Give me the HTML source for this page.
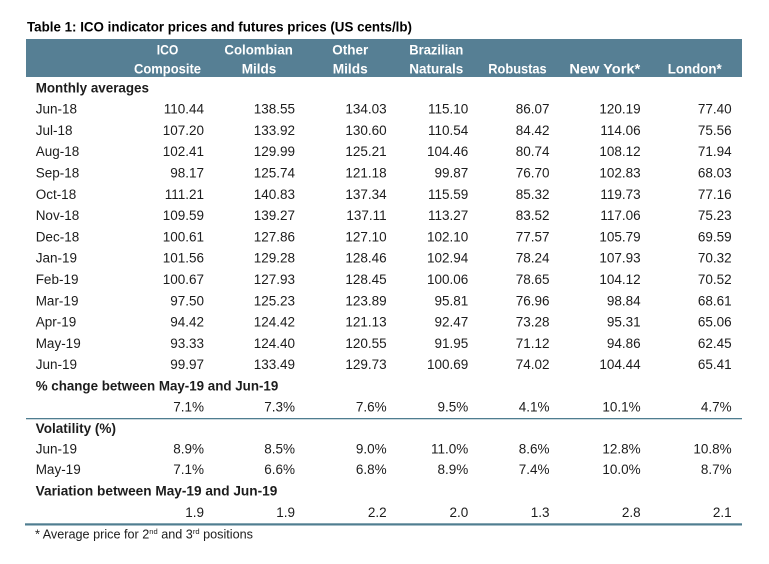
<!DOCTYPE html>
<html><head><meta charset="utf-8"><style>
html,body{margin:0;padding:0;background:#fff;}
svg{display:block;}
text{font-family:"Liberation Sans",Arial,sans-serif;fill:#1c1c1c;}
.b{font-weight:bold;}
.h{font-weight:bold;fill:#fff;font-size:14px;}
.n{font-size:13.5px;text-anchor:end;}
.l{font-size:13.5px;}
</style></head><body>
<svg width="769" height="564" viewBox="0 0 769 564" xmlns="http://www.w3.org/2000/svg">
<rect x="0" y="0" width="769" height="564" fill="#fff"/>
<text x="27" y="31.5" class="b" font-size="14" textLength="385" lengthAdjust="spacingAndGlyphs" style="fill:#000">Table 1:  ICO indicator prices and futures prices (US cents/lb)</text>
<rect x="26" y="39" width="716" height="38" fill="#567f94"/>
<g text-anchor="middle">
<text class="h" x="167.5" y="54.3" textLength="21.6" lengthAdjust="spacingAndGlyphs">ICO</text>
<text class="h" x="167.5" y="73.3" textLength="67" lengthAdjust="spacingAndGlyphs">Composite</text>
<text class="h" x="258.6" y="54.3" textLength="68.4" lengthAdjust="spacingAndGlyphs">Colombian</text>
<text class="h" x="259" y="73.3" textLength="34.6" lengthAdjust="spacingAndGlyphs">Milds</text>
<text class="h" x="350.3" y="54.3" textLength="36" lengthAdjust="spacingAndGlyphs">Other</text>
<text class="h" x="350.2" y="73.3" textLength="35" lengthAdjust="spacingAndGlyphs">Milds</text>
<text class="h" x="436.3" y="54.3" textLength="54" lengthAdjust="spacingAndGlyphs">Brazilian</text>
<text class="h" x="436.3" y="73.3" textLength="54" lengthAdjust="spacingAndGlyphs">Naturals</text>
<text class="h" x="517.5" y="73.3" textLength="58.4" lengthAdjust="spacingAndGlyphs">Robustas</text>
<text class="h" x="604.8" y="73.3" textLength="70.8" lengthAdjust="spacingAndGlyphs">New York*</text>
<text class="h" x="694.7" y="73.3" textLength="54" lengthAdjust="spacingAndGlyphs">London*</text>
</g>

<text class="l b" x="35.7" y="92.3" textLength="113.3" lengthAdjust="spacingAndGlyphs">Monthly averages</text>

<g>
<text class="l" x="35.7" y="113.6">Jun-18</text>
<text class="l" x="35.7" y="134.9">Jul-18</text>
<text class="l" x="35.7" y="156.2">Aug-18</text>
<text class="l" x="35.7" y="177.5">Sep-18</text>
<text class="l" x="35.7" y="198.8">Oct-18</text>
<text class="l" x="35.7" y="220.1">Nov-18</text>
<text class="l" x="35.7" y="241.4">Dec-18</text>
<text class="l" x="35.7" y="262.7">Jan-19</text>
<text class="l" x="35.7" y="284.0">Feb-19</text>
<text class="l" x="35.7" y="305.3">Mar-19</text>
<text class="l" x="35.7" y="326.6">Apr-19</text>
<text class="l" x="35.7" y="347.9">May-19</text>
<text class="l" x="35.7" y="369.2">Jun-19</text>
</g>

<g class="n">
<text class="n" x="204" y="113.6">110.44</text>
<text class="n" x="204" y="134.9">107.20</text>
<text class="n" x="204" y="156.2">102.41</text>
<text class="n" x="204" y="177.5">98.17</text>
<text class="n" x="204" y="198.8">111.21</text>
<text class="n" x="204" y="220.1">109.59</text>
<text class="n" x="204" y="241.4">100.61</text>
<text class="n" x="204" y="262.7">101.56</text>
<text class="n" x="204" y="284.0">100.67</text>
<text class="n" x="204" y="305.3">97.50</text>
<text class="n" x="204" y="326.6">94.42</text>
<text class="n" x="204" y="347.9">93.33</text>
<text class="n" x="204" y="369.2">99.97</text>
<text class="n" x="295" y="113.6">138.55</text>
<text class="n" x="295" y="134.9">133.92</text>
<text class="n" x="295" y="156.2">129.99</text>
<text class="n" x="295" y="177.5">125.74</text>
<text class="n" x="295" y="198.8">140.83</text>
<text class="n" x="295" y="220.1">139.27</text>
<text class="n" x="295" y="241.4">127.86</text>
<text class="n" x="295" y="262.7">129.28</text>
<text class="n" x="295" y="284.0">127.93</text>
<text class="n" x="295" y="305.3">125.23</text>
<text class="n" x="295" y="326.6">124.42</text>
<text class="n" x="295" y="347.9">124.40</text>
<text class="n" x="295" y="369.2">133.49</text>
<text class="n" x="386.7" y="113.6">134.03</text>
<text class="n" x="386.7" y="134.9">130.60</text>
<text class="n" x="386.7" y="156.2">125.21</text>
<text class="n" x="386.7" y="177.5">121.18</text>
<text class="n" x="386.7" y="198.8">137.34</text>
<text class="n" x="386.7" y="220.1">137.11</text>
<text class="n" x="386.7" y="241.4">127.10</text>
<text class="n" x="386.7" y="262.7">128.46</text>
<text class="n" x="386.7" y="284.0">128.45</text>
<text class="n" x="386.7" y="305.3">123.89</text>
<text class="n" x="386.7" y="326.6">121.13</text>
<text class="n" x="386.7" y="347.9">120.55</text>
<text class="n" x="386.7" y="369.2">129.73</text>
<text class="n" x="468.3" y="113.6">115.10</text>
<text class="n" x="468.3" y="134.9">110.54</text>
<text class="n" x="468.3" y="156.2">104.46</text>
<text class="n" x="468.3" y="177.5">99.87</text>
<text class="n" x="468.3" y="198.8">115.59</text>
<text class="n" x="468.3" y="220.1">113.27</text>
<text class="n" x="468.3" y="241.4">102.10</text>
<text class="n" x="468.3" y="262.7">102.94</text>
<text class="n" x="468.3" y="284.0">100.06</text>
<text class="n" x="468.3" y="305.3">95.81</text>
<text class="n" x="468.3" y="326.6">92.47</text>
<text class="n" x="468.3" y="347.9">91.95</text>
<text class="n" x="468.3" y="369.2">100.69</text>
<text class="n" x="549.5" y="113.6">86.07</text>
<text class="n" x="549.5" y="134.9">84.42</text>
<text class="n" x="549.5" y="156.2">80.74</text>
<text class="n" x="549.5" y="177.5">76.70</text>
<text class="n" x="549.5" y="198.8">85.32</text>
<text class="n" x="549.5" y="220.1">83.52</text>
<text class="n" x="549.5" y="241.4">77.57</text>
<text class="n" x="549.5" y="262.7">78.24</text>
<text class="n" x="549.5" y="284.0">78.65</text>
<text class="n" x="549.5" y="305.3">76.96</text>
<text class="n" x="549.5" y="326.6">73.28</text>
<text class="n" x="549.5" y="347.9">71.12</text>
<text class="n" x="549.5" y="369.2">74.02</text>
<text class="n" x="640.7" y="113.6">120.19</text>
<text class="n" x="640.7" y="134.9">114.06</text>
<text class="n" x="640.7" y="156.2">108.12</text>
<text class="n" x="640.7" y="177.5">102.83</text>
<text class="n" x="640.7" y="198.8">119.73</text>
<text class="n" x="640.7" y="220.1">117.06</text>
<text class="n" x="640.7" y="241.4">105.79</text>
<text class="n" x="640.7" y="262.7">107.93</text>
<text class="n" x="640.7" y="284.0">104.12</text>
<text class="n" x="640.7" y="305.3">98.84</text>
<text class="n" x="640.7" y="326.6">95.31</text>
<text class="n" x="640.7" y="347.9">94.86</text>
<text class="n" x="640.7" y="369.2">104.44</text>
<text class="n" x="731.7" y="113.6">77.40</text>
<text class="n" x="731.7" y="134.9">75.56</text>
<text class="n" x="731.7" y="156.2">71.94</text>
<text class="n" x="731.7" y="177.5">68.03</text>
<text class="n" x="731.7" y="198.8">77.16</text>
<text class="n" x="731.7" y="220.1">75.23</text>
<text class="n" x="731.7" y="241.4">69.59</text>
<text class="n" x="731.7" y="262.7">70.32</text>
<text class="n" x="731.7" y="284.0">70.52</text>
<text class="n" x="731.7" y="305.3">68.61</text>
<text class="n" x="731.7" y="326.6">65.06</text>
<text class="n" x="731.7" y="347.9">62.45</text>
<text class="n" x="731.7" y="369.2">65.41</text>
</g>

<text class="l b" x="35.7" y="390.5" textLength="242.6" lengthAdjust="spacingAndGlyphs">% change between May-19 and Jun-19</text>
<g>
<text class="n" x="204" y="411.6">7.1%</text>
<text class="n" x="295" y="411.6">7.3%</text>
<text class="n" x="386.7" y="411.6">7.6%</text>
<text class="n" x="468.3" y="411.6">9.5%</text>
<text class="n" x="549.5" y="411.6">4.1%</text>
<text class="n" x="640.7" y="411.6">10.1%</text>
<text class="n" x="731.7" y="411.6">4.7%</text>
</g>
<rect x="26" y="418" width="716" height="1.3" fill="#4f7d90"/>

<text class="l b" x="35.7" y="433" textLength="80.3" lengthAdjust="spacingAndGlyphs">Volatility (%)</text>
<text class="l" x="35.7" y="453.3">Jun-19</text>
<text class="l" x="35.7" y="474">May-19</text>
<g>
<text class="n" x="204" y="453.3">8.9%</text>
<text class="n" x="295" y="453.3">8.5%</text>
<text class="n" x="386.7" y="453.3">9.0%</text>
<text class="n" x="468.3" y="453.3">11.0%</text>
<text class="n" x="549.5" y="453.3">8.6%</text>
<text class="n" x="640.7" y="453.3">12.8%</text>
<text class="n" x="731.7" y="453.3">10.8%</text>
<text class="n" x="204" y="474">7.1%</text>
<text class="n" x="295" y="474">6.6%</text>
<text class="n" x="386.7" y="474">6.8%</text>
<text class="n" x="468.3" y="474">8.9%</text>
<text class="n" x="549.5" y="474">7.4%</text>
<text class="n" x="640.7" y="474">10.0%</text>
<text class="n" x="731.7" y="474">8.7%</text>
</g>

<text class="l b" x="35.7" y="495.5" textLength="241.6" lengthAdjust="spacingAndGlyphs">Variation between May-19 and Jun-19</text>
<g>
<text class="n" x="204" y="517.2">1.9</text>
<text class="n" x="295" y="517.2">1.9</text>
<text class="n" x="386.7" y="517.2">2.2</text>
<text class="n" x="468.3" y="517.2">2.0</text>
<text class="n" x="549.5" y="517.2">1.3</text>
<text class="n" x="640.7" y="517.2">2.8</text>
<text class="n" x="731.7" y="517.2">2.1</text>
</g>
<rect x="25" y="523.3" width="717" height="2.2" fill="#4f7d90"/>

<text x="35" y="538.3" font-size="12.5" textLength="218" lengthAdjust="spacingAndGlyphs">* Average price for 2<tspan font-size="7.5" dy="-4.5">nd</tspan><tspan dy="4.5"> and 3</tspan><tspan font-size="7.5" dy="-4.5">rd</tspan><tspan dy="4.5"> positions</tspan></text>
</svg>
</body></html>
